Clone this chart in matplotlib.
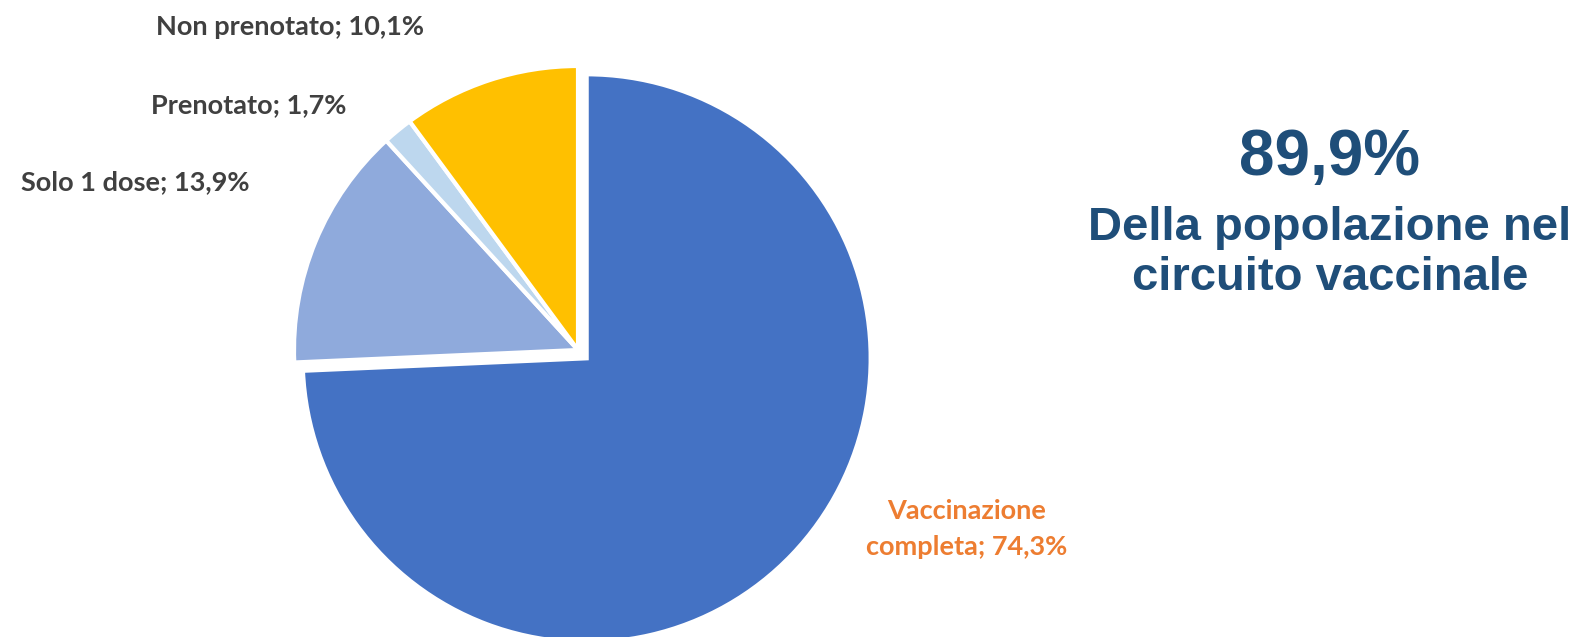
import matplotlib.pyplot as plt

# data
labels = ["Vaccinazione\ncompleta", "Solo 1 dose", "Prenotato", "Non prenotato"]
values = [74.3, 13.9, 1.7, 10.1]
colors = ["#4472C4", "#8FAADC", "#BDD7EE", "#FFC000"]
explode = [12, 0, 0, 0]  # pixels, axes are in pixel units
label_colors = ["#ED7D31", "#404040", "#404040", "#404040"]
# label anchor positions in pixels (x, y from top)
label_pos = [(967, 529), (135, 182), (249, 105), (290, 27)]

W, H = 1583, 637
fig = plt.figure(figsize=(W / 100, H / 100), dpi=100)
ax = fig.add_axes([0, 0, 1, 1])

ax.pie(values, colors=colors, explode=explode, startangle=90,
       counterclock=False, radius=284, center=(578, H - 350),
       wedgeprops=dict(edgecolor="white", linewidth=3), frame=True)
ax.set_xlim(0, W)
ax.set_ylim(0, H)
ax.set_aspect("equal")
ax.axis("off")

for lab, v, c, (x, y) in zip(labels, values, label_colors, label_pos):
    txt = f"{lab}; {v:.1f}%".replace(".", ",")
    ax.text(x, H - y, txt, ha="center", va="center", color=c,
            fontsize=19.5, fontweight="bold", family="Lato", linespacing=1.6)

# headline on the right
total = values[0] + values[1] + values[2]
navy = "#1F4E79"
ax.text(1330, H - 158, f"{total:.1f}%".replace(".", ","), ha="center", va="center",
        color=navy, fontsize=46, fontweight="bold", family="Liberation Sans")
ax.text(1330, H - 253, "Della popolazione nel\ncircuito vaccinale", ha="center",
        va="center", color=navy, fontsize=34, fontweight="bold",
        family="Liberation Sans", linespacing=1.2)

fig.savefig("out.png", dpi=100)
